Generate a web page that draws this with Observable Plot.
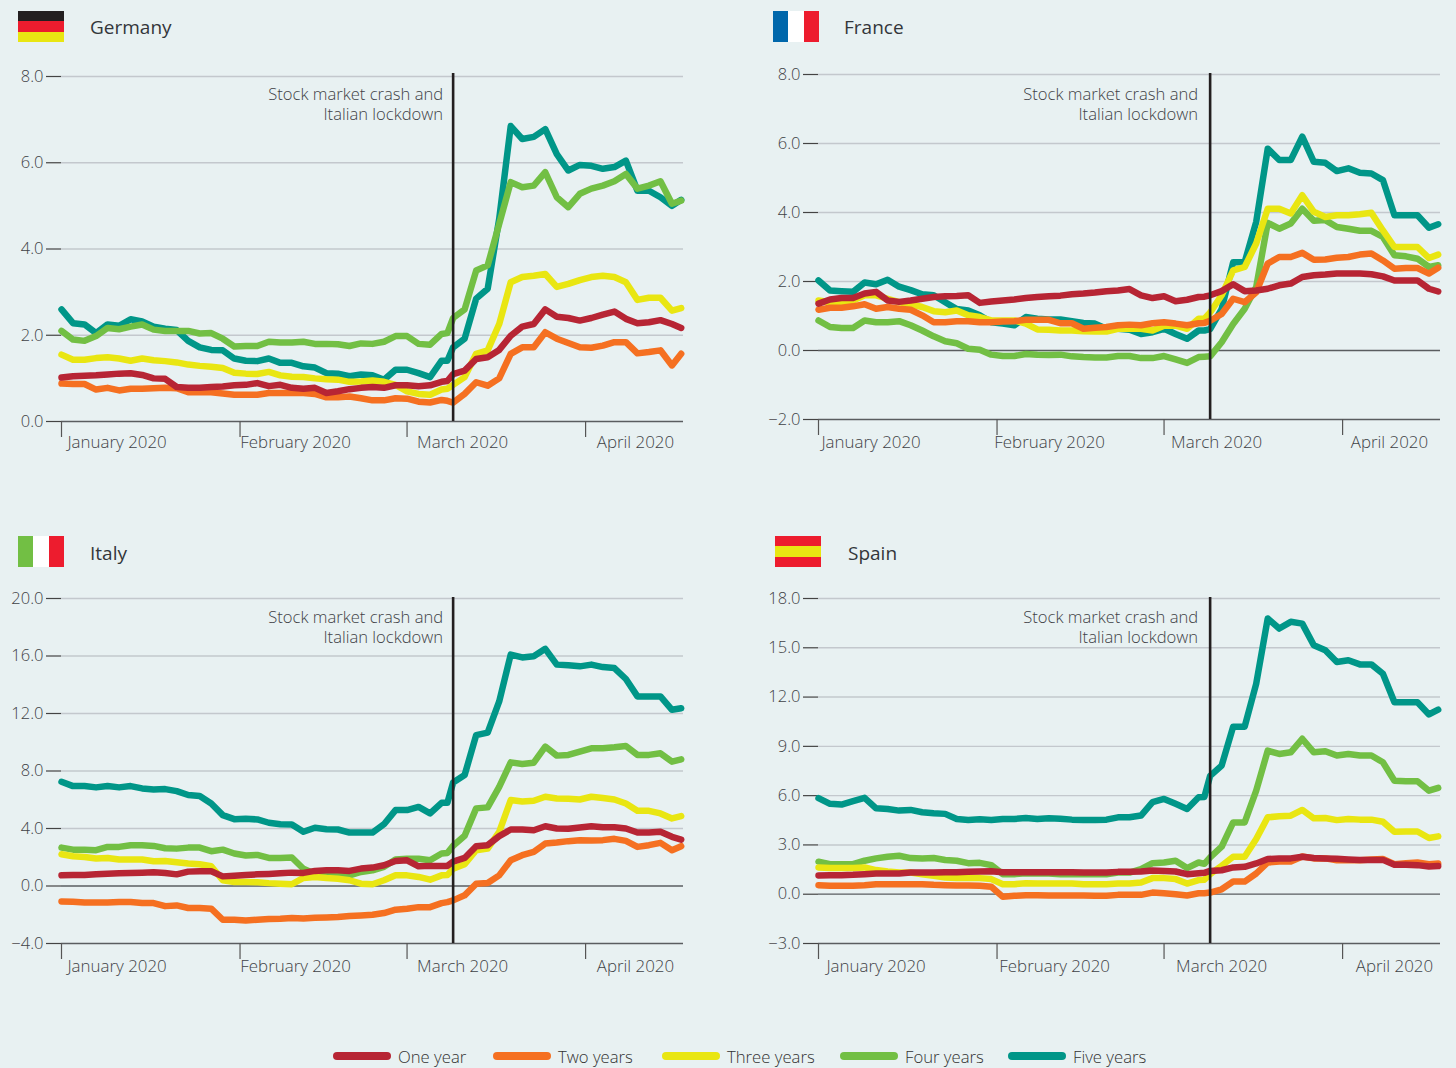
<!DOCTYPE html>
<html><head><meta charset="utf-8">
<script src="https://cdn.jsdelivr.net/npm/d3@7"></script>
<script src="https://cdn.jsdelivr.net/npm/@observablehq/plot@0.6"></script>
<style>
html,body{margin:0;padding:0;background:#e8f1f2;width:1456px;height:1068px;overflow:hidden}
body{position:relative;font-family:"Open Sans","Noto Sans",sans-serif;color:#3f4246}
.abs{position:absolute}
.title{font-size:19px;line-height:26px;color:#33363a}
.leg{font-size:16.7px;line-height:20px;font-weight:300;color:#333}
svg text{font-family:"Open Sans","Noto Sans",sans-serif;font-weight:300}
</style></head><body>
<script>
const seriesNames = ["Five years","Four years","Three years","Two years","One year"];
const seriesColors = ["#009688","#72bf44","#e9e612","#f57021","#b72534"];
const legendOrder = ["One year","Two years","Three years","Four years","Five years"];
const monthStarts = ["2020-01-01","2020-02-01","2020-03-01","2020-04-01"];
const monthLabels = ["January 2020","February 2020","March 2020","April 2020"];
const labelDates = ["2020-01-11","2020-02-11","2020-03-11","2020-04-10"];
const eventDate = "2020-03-09";
const eventText = "Stock market crash and\nItalian lockdown";
// days after 1 Jan 2020 of each reading
const dayOffsets = [0,2,4,6,8,10,12,14,16,18,20,22,24,26,28,30,32,34,36,38,40,42,44,46,48,50,52,54,56,58,60,62,64,66,67,68,70,72,74,76,78,80,82,84,86,88,90,92,94,96,98,100,102,104,106,107.6];

const germanyFive = [2.6,2.28,2.25,2.05,2.25,2.22,2.37,2.32,2.2,2.15,2.12,1.87,1.72,1.66,1.65,1.46,1.41,1.4,1.46,1.36,1.36,1.28,1.25,1.12,1.11,1.05,1.09,1.07,0.97,1.2,1.2,1.12,1.03,1.41,1.41,1.72,1.92,2.85,3.08,4.7,6.85,6.55,6.6,6.78,6.2,5.82,5.95,5.93,5.86,5.9,6.05,5.35,5.35,5.2,5.0,5.14];
const germanyFour = [2.1,1.9,1.87,1.98,2.17,2.14,2.2,2.25,2.13,2.1,2.1,2.1,2.04,2.05,1.92,1.74,1.75,1.75,1.85,1.83,1.83,1.85,1.8,1.8,1.79,1.75,1.81,1.8,1.85,1.98,1.98,1.8,1.78,2.03,2.05,2.4,2.6,3.5,3.62,4.58,5.55,5.43,5.47,5.78,5.2,4.97,5.28,5.4,5.47,5.57,5.74,5.4,5.47,5.57,5.05,5.12];
const germanyThree = [1.55,1.43,1.43,1.47,1.49,1.46,1.41,1.46,1.42,1.4,1.37,1.32,1.29,1.27,1.24,1.13,1.11,1.1,1.15,1.07,1.04,1.03,1.0,0.98,0.97,0.92,0.93,0.95,0.92,0.85,0.7,0.64,0.62,0.74,0.76,0.85,1.03,1.57,1.65,2.26,3.23,3.35,3.38,3.42,3.12,3.19,3.28,3.35,3.38,3.35,3.23,2.82,2.87,2.87,2.57,2.63];
const germanyTwo = [0.88,0.87,0.87,0.74,0.78,0.72,0.76,0.76,0.77,0.78,0.77,0.68,0.68,0.68,0.65,0.62,0.62,0.62,0.66,0.66,0.66,0.66,0.64,0.56,0.56,0.58,0.54,0.49,0.49,0.54,0.53,0.46,0.44,0.5,0.48,0.44,0.64,0.91,0.83,1.0,1.57,1.72,1.72,2.07,1.92,1.82,1.72,1.71,1.76,1.84,1.84,1.58,1.61,1.65,1.3,1.57];
const germanyOne = [1.02,1.05,1.06,1.07,1.09,1.11,1.12,1.08,1.0,0.99,0.8,0.78,0.78,0.8,0.81,0.84,0.85,0.89,0.82,0.85,0.78,0.76,0.78,0.66,0.7,0.75,0.78,0.8,0.78,0.84,0.84,0.82,0.84,0.92,0.94,1.1,1.18,1.45,1.49,1.66,1.99,2.2,2.26,2.6,2.43,2.4,2.34,2.4,2.48,2.55,2.38,2.28,2.3,2.35,2.26,2.17];

const franceFive = [2.03,1.74,1.72,1.7,1.97,1.92,2.05,1.85,1.75,1.63,1.6,1.4,1.2,1.16,1.02,0.82,0.78,0.73,0.97,0.92,0.9,0.9,0.85,0.8,0.78,0.63,0.63,0.6,0.48,0.53,0.63,0.48,0.34,0.58,0.58,0.62,1.2,2.56,2.56,3.73,5.85,5.52,5.52,6.2,5.47,5.44,5.2,5.28,5.15,5.13,4.94,3.92,3.92,3.92,3.56,3.66];
const franceFour = [0.87,0.68,0.65,0.65,0.87,0.82,0.82,0.85,0.73,0.58,0.41,0.27,0.21,0.05,0.02,-0.12,-0.16,-0.16,-0.1,-0.12,-0.13,-0.12,-0.17,-0.19,-0.2,-0.2,-0.16,-0.16,-0.22,-0.22,-0.16,-0.26,-0.36,-0.19,-0.18,-0.17,0.24,0.77,1.21,1.84,3.7,3.53,3.68,4.11,3.76,3.78,3.58,3.53,3.47,3.47,3.29,2.76,2.73,2.66,2.42,2.47];
const franceThree = [1.45,1.4,1.4,1.45,1.6,1.6,1.5,1.4,1.34,1.26,1.14,1.11,1.16,1.02,0.97,0.87,0.87,0.87,0.78,0.61,0.6,0.58,0.58,0.56,0.55,0.55,0.63,0.63,0.63,0.58,0.72,0.72,0.63,0.92,0.92,1.1,1.6,2.32,2.42,3.1,4.11,4.11,3.97,4.5,4.02,3.87,3.92,3.92,3.95,3.99,3.48,3.0,3.0,3.0,2.68,2.78];
const franceTwo = [1.18,1.24,1.24,1.28,1.34,1.21,1.26,1.21,1.18,1.02,0.82,0.82,0.85,0.85,0.82,0.82,0.84,0.85,0.89,0.89,0.89,0.79,0.79,0.63,0.66,0.68,0.73,0.75,0.73,0.79,0.82,0.78,0.73,0.79,0.8,0.86,1.06,1.5,1.4,1.69,2.52,2.71,2.71,2.83,2.63,2.64,2.69,2.71,2.78,2.81,2.61,2.37,2.39,2.39,2.23,2.4];
const franceOne = [1.36,1.48,1.52,1.52,1.65,1.7,1.45,1.41,1.45,1.5,1.55,1.57,1.58,1.6,1.38,1.42,1.45,1.48,1.52,1.55,1.57,1.59,1.63,1.65,1.68,1.72,1.74,1.78,1.6,1.52,1.57,1.43,1.47,1.55,1.56,1.6,1.72,1.92,1.72,1.74,1.79,1.89,1.94,2.13,2.18,2.2,2.23,2.23,2.23,2.21,2.15,2.03,2.03,2.03,1.79,1.71];

const italyFive = [7.25,6.95,6.95,6.86,6.95,6.86,6.95,6.79,6.72,6.74,6.6,6.33,6.26,5.74,4.93,4.65,4.67,4.63,4.4,4.3,4.28,3.77,4.05,3.95,3.93,3.72,3.72,3.72,4.3,5.28,5.28,5.5,5.05,5.79,5.79,7.2,7.72,10.5,10.67,12.84,16.1,15.9,15.98,16.5,15.4,15.35,15.28,15.4,15.23,15.16,14.4,13.19,13.19,13.19,12.26,12.37];
const italyFour = [2.67,2.53,2.53,2.49,2.72,2.72,2.84,2.84,2.79,2.63,2.6,2.67,2.67,2.42,2.53,2.26,2.12,2.16,1.95,1.95,1.98,1.2,0.86,0.74,0.74,0.74,0.98,1.09,1.33,1.84,1.9,1.9,1.79,2.26,2.3,2.8,3.49,5.4,5.47,6.9,8.6,8.49,8.58,9.7,9.07,9.12,9.35,9.58,9.58,9.65,9.74,9.12,9.12,9.23,8.65,8.81];
const italyThree = [2.21,2.07,2.02,1.91,1.95,1.84,1.84,1.84,1.72,1.74,1.65,1.56,1.51,1.37,0.4,0.28,0.28,0.26,0.2,0.16,0.12,0.56,0.63,0.56,0.51,0.4,0.16,0.12,0.4,0.74,0.74,0.63,0.44,0.74,0.76,1.2,1.51,2.49,2.6,3.77,5.98,5.88,5.93,6.21,6.09,6.07,6.02,6.21,6.12,6.02,5.74,5.23,5.23,5.05,4.7,4.86];
const italyTwo = [-1.07,-1.09,-1.14,-1.14,-1.14,-1.12,-1.12,-1.19,-1.19,-1.4,-1.35,-1.53,-1.53,-1.58,-2.35,-2.35,-2.4,-2.35,-2.3,-2.28,-2.23,-2.26,-2.21,-2.19,-2.16,-2.09,-2.05,-2.0,-1.88,-1.65,-1.58,-1.47,-1.47,-1.19,-1.12,-1.0,-0.65,0.16,0.21,0.74,1.79,2.14,2.37,2.95,3.02,3.12,3.19,3.16,3.19,3.28,3.14,2.72,2.84,3.0,2.49,2.77];
const italyOne = [0.74,0.77,0.77,0.81,0.86,0.88,0.91,0.93,0.95,0.91,0.81,1.0,1.02,1.02,0.67,0.72,0.77,0.81,0.84,0.88,0.93,0.91,1.05,1.09,1.09,1.05,1.21,1.28,1.44,1.74,1.79,1.37,1.4,1.4,1.4,1.7,1.95,2.77,2.84,3.47,3.93,3.93,3.88,4.16,4.0,3.98,4.07,4.16,4.09,4.09,4.0,3.72,3.72,3.77,3.42,3.23];

const spainFive = [5.85,5.5,5.46,5.66,5.87,5.23,5.19,5.09,5.13,4.99,4.93,4.89,4.58,4.52,4.56,4.52,4.58,4.58,4.64,4.58,4.62,4.6,4.54,4.52,4.52,4.54,4.68,4.68,4.79,5.6,5.8,5.5,5.19,5.9,5.92,7.2,7.83,10.2,10.2,12.81,16.78,16.17,16.58,16.47,15.15,14.85,14.13,14.24,13.99,13.99,13.42,11.69,11.69,11.69,10.94,11.23];
const spainFour = [1.98,1.83,1.83,1.83,2.04,2.18,2.28,2.34,2.2,2.18,2.2,2.08,2.04,1.89,1.91,1.77,1.22,1.22,1.28,1.26,1.26,1.22,1.22,1.22,1.22,1.22,1.32,1.32,1.53,1.89,1.93,2.04,1.59,1.93,1.85,2.24,2.89,4.37,4.37,6.3,8.74,8.54,8.64,9.46,8.64,8.7,8.44,8.54,8.44,8.44,8.03,6.91,6.87,6.87,6.3,6.47];
const spainThree = [1.63,1.59,1.59,1.59,1.63,1.47,1.38,1.32,1.32,1.22,1.12,1.02,0.98,0.98,0.98,0.92,0.61,0.61,0.67,0.65,0.65,0.65,0.65,0.61,0.61,0.61,0.65,0.65,0.71,0.98,0.98,0.92,0.65,0.86,0.88,1.22,1.73,2.28,2.28,3.36,4.68,4.74,4.78,5.13,4.62,4.64,4.51,4.58,4.54,4.54,4.41,3.8,3.82,3.82,3.42,3.52];
const spainTwo = [0.55,0.51,0.51,0.51,0.55,0.61,0.61,0.61,0.61,0.61,0.57,0.55,0.53,0.53,0.51,0.45,-0.16,-0.1,-0.06,-0.06,-0.08,-0.08,-0.08,-0.08,-0.1,-0.1,-0.04,-0.04,-0.04,0.1,0.06,0.0,-0.08,0.06,0.06,0.1,0.3,0.77,0.77,1.26,1.93,1.99,1.99,2.3,2.18,2.18,2.07,2.07,2.07,2.12,2.14,1.83,1.89,1.93,1.83,1.87];
const spainOne = [1.14,1.16,1.16,1.18,1.22,1.26,1.26,1.26,1.32,1.32,1.32,1.34,1.34,1.36,1.38,1.4,1.34,1.34,1.34,1.34,1.34,1.34,1.34,1.32,1.32,1.32,1.36,1.36,1.38,1.44,1.42,1.38,1.22,1.28,1.3,1.42,1.46,1.63,1.67,1.87,2.14,2.18,2.18,2.28,2.2,2.18,2.16,2.12,2.09,2.09,2.09,1.79,1.79,1.77,1.69,1.71];

const germanyTicks = [0,2,4,6,8];
const franceTicks = [-2,0,2,4,6,8];
const italyTicks = [-4,0,4,8,12,16,20];
const spainTicks = [-3,0,3,6,9,12,15,18];

const dates = dayOffsets.map(d => new Date(Date.UTC(2020,0,1) + d*864e5));
const D = s => new Date(s+"T00:00:00Z");

const panels = [
  {name:"Germany",left:0,top:0,mt:76,mb:49,ticks:germanyTicks,lines:[germanyFive,germanyFour,germanyThree,germanyTwo,germanyOne],dx:-2,ldy:26,ady:9,adx:-10,rt:-3,
   flag:{x:18,y:11,dir:"row",c:["#231f20","#ed1c2e","#e9e612"]},tx:90,ty:14},
  {name:"France",left:757,top:0,mt:74,mb:51,ticks:franceTicks,lines:[franceFive,franceFour,franceThree,franceTwo,franceOne],dx:-5,ldy:28,ady:11,adx:-12,rt:-1,
   flag:{x:773,y:11,dir:"col",c:["#0067ab","#ffffff","#ed1c2e"]},tx:844,ty:14},
  {name:"Italy",left:0,top:520,mt:78,mb:47,ticks:italyTicks,lines:[italyFive,italyFour,italyThree,italyTwo,italyOne],dx:-2,ldy:28,ady:10,adx:-10,rt:-1,
   flag:{x:18,y:536,dir:"col",c:["#72bf44","#ffffff","#ed1c2e"]},tx:90,ty:540},
  {name:"Spain",left:757,top:520,mt:78,mb:47,ticks:spainTicks,lines:[spainFive,spainFour,spainThree,spainTwo,spainOne],dx:0,ldy:28,ady:10,adx:-12,rt:-1,
   flag:{x:775,y:536,dir:"row",c:["#ed1c2e","#e9e612","#ed1c2e"]},tx:848,ty:540}
];

function addDiv(cls, css, text){
  const d=document.createElement("div");
  d.className="abs "+cls; d.style.cssText+=css;
  if(text) d.textContent=text;
  document.body.appendChild(d); return d;
}

const textColor = "#3f4246";
for(const p of panels){
  const rows = p.lines.flatMap((vals,i)=>vals.map((v,k)=>({date:dates[k],value:v,series:seriesNames[i]})));
  const ymin=d3.min(p.ticks), ymax=d3.max(p.ticks);
  const labels = monthLabels.map((t,i)=>({t,d:D(labelDates[i])}));
  const chart = Plot.plot({
    width:700,height:470,marginLeft:61,marginRight:17,marginTop:p.mt,marginBottom:p.mb,
    style:{background:"transparent",overflow:"visible"},
    x:{type:"utc",domain:[D("2020-01-01"),D("2020-04-18")],label:null},
    y:{domain:[ymin,ymax],label:null},
    color:{domain:seriesNames,range:seriesColors},
    marks:[
      Plot.ruleY(p.ticks.filter(t=>t!==ymin&&t!==0),{y:d=>d,stroke:"#c3c8cd",strokeWidth:1.4}),
      Plot.ruleY(p.ticks.filter(t=>t===ymin||t===0),{y:d=>d,stroke:"#5a5d60",strokeWidth:1.3}),
      Plot.axisY({ticks:p.ticks,tickSize:15,tickPadding:3,tickFormat:".1f",label:null,fontSize:16.5,stroke:"#444",fill:textColor,strokeWidth:1.2}),
      Plot.axisX({ticks:monthStarts.map(D),tickSize:16,tickFormat:()=>"",label:null,stroke:"#555",strokeWidth:1.2}),
      Plot.text(labels,{x:"d",text:"t",frameAnchor:"bottom",dx:p.dx,dy:p.ldy,fontSize:16.9,fill:textColor}),
      Plot.line(rows,{x:"date",y:"value",z:"series",stroke:"series",strokeWidth:6.5,strokeLinejoin:"round",strokeLinecap:"round"}),
      Plot.ruleX([D(eventDate)],{x:d=>d,stroke:"#231f20",strokeWidth:2.6,insetTop:p.rt}),
      Plot.text([eventText],{x:()=>D(eventDate),text:d=>d,frameAnchor:"top",textAnchor:"end",lineAnchor:"top",dx:p.adx,dy:p.ady,lineHeight:1.2,fontSize:16.6,fill:textColor})
    ]
  });
  chart.style.position="absolute";
  chart.style.left=p.left+"px";
  chart.style.top=p.top+"px";
  document.body.appendChild(chart);

  const f=addDiv("flag",`left:${p.flag.x}px;top:${p.flag.y}px;width:46px;height:31px;display:flex;flex-direction:${p.flag.dir==="row"?"column":"row"}`);
  for(const c of p.flag.c){const s=document.createElement("div");s.style.cssText=`flex:1;background:${c}`;f.appendChild(s);}
  addDiv("title",`left:${p.tx}px;top:${p.ty}px`,p.name);
}

const legendX = [333,493,662,840,1008];
legendOrder.forEach((name,i)=>{
  const c = seriesColors[seriesNames.indexOf(name)];
  addDiv("swatch",`left:${legendX[i]}px;top:1052px;width:58px;height:8px;border-radius:4px;background:${c}`);
  addDiv("leg",`left:${legendX[i]+65}px;top:1047px`,name);
});
</script>
</body></html>
